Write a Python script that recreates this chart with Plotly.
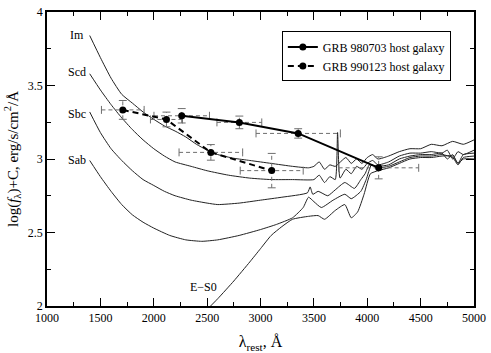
import plotly.graph_objects as go

# template galaxy spectra, log(f_lambda)+C vs rest wavelength
im_wave = [1400, 1500, 1600, 1700, 1800, 1900, 2000, 2100, 2200, 2300, 2400, 2500, 2600, 2750, 2900,
           3100, 3300, 3450, 3500, 3550, 3600, 3650, 3700, 3800, 3850, 3900, 3950, 4000, 4050, 4100,
           4200, 4300, 4400, 4500, 4600, 4700, 4800, 4900, 5000]
im_flux = [3.84, 3.69, 3.55, 3.44, 3.38, 3.32, 3.27, 3.225, 3.19, 3.15, 3.10, 3.06, 3.03, 3.005, 2.99,
           2.97, 2.95, 2.94, 2.95, 2.98, 2.93, 2.96, 2.95, 3.01, 2.97, 3.00, 2.97, 3.01, 3.03, 3.00,
           3.02, 3.05, 3.07, 3.07, 3.10, 3.09, 3.12, 3.10, 3.13]

scd_wave = [1400, 1500, 1600, 1700, 1800, 1900, 2000, 2100, 2200, 2350, 2500, 2700, 2900, 3100, 3300,
            3500, 3550, 3600, 3650, 3700, 3722, 3745, 3800, 3850, 3900, 3950, 4000, 4050, 4100, 4200,
            4300, 4400, 4500, 4600, 4700, 4750, 4800, 4850, 4900, 5000]
scd_flux = [3.58, 3.47, 3.37, 3.28, 3.20, 3.13, 3.07, 3.02, 2.98, 2.95, 2.92, 2.89, 2.87, 2.86, 2.86,
            2.86, 2.89, 2.84, 2.88, 2.86, 3.18, 2.87, 2.93, 2.90, 2.95, 2.93, 2.97, 2.99, 2.96, 2.98,
            3.02, 3.04, 3.04, 3.05, 3.04, 3.06, 3.00, 3.05, 3.03, 3.06]

sbc_wave = [1400, 1500, 1600, 1700, 1800, 1900, 2000, 2100, 2200, 2350, 2500, 2600, 2800, 3000, 3200,
            3440, 3465, 3490, 3540, 3630, 3700, 3790, 3880, 3940, 3980, 4020, 4100, 4200, 4300, 4400,
            4500, 4600, 4700, 4750, 4800, 4850, 4900, 5000]
sbc_flux = [3.32, 3.18, 3.07, 2.99, 2.92, 2.86, 2.82, 2.78, 2.75, 2.72, 2.70, 2.69, 2.70, 2.72, 2.74,
            2.77, 2.81, 2.76, 2.78, 2.75, 2.79, 2.84, 2.80, 2.86, 2.90, 2.96, 2.95, 2.96, 3.00, 3.02,
            3.03, 3.03, 3.04, 3.00, 3.03, 2.97, 3.03, 3.04]

sab_wave = [1400, 1500, 1600, 1700, 1800, 1900, 2000, 2150, 2300, 2450, 2600, 2800, 3000, 3150, 3300,
            3400, 3450, 3500, 3570, 3680, 3790, 3850, 3940, 3990, 4040, 4100, 4200, 4300, 4400, 4500,
            4600, 4700, 4800, 4850, 4900, 5000]
sab_flux = [2.99, 2.88, 2.78, 2.69, 2.62, 2.57, 2.53, 2.48, 2.45, 2.44, 2.45, 2.48, 2.52, 2.555, 2.60,
            2.67, 2.74, 2.71, 2.67, 2.72, 2.76, 2.73, 2.78, 2.86, 2.96, 2.94, 2.95, 2.98, 3.01, 3.02,
            3.02, 3.03, 3.01, 2.96, 3.01, 3.02]

es0_wave = [2450, 2600, 2750, 2900, 3000, 3100, 3200, 3300, 3450, 3540, 3600, 3700, 3790, 3850, 3910,
            3970, 4030, 4100, 4200, 4300, 4400, 4500, 4600, 4700, 4800, 4850, 4900, 5000]
es0_flux = [1.94, 2.05, 2.17, 2.30, 2.39, 2.48, 2.54, 2.59, 2.61, 2.615, 2.59, 2.65, 2.69, 2.60, 2.64,
            2.76, 2.90, 2.92, 2.94, 2.97, 3.00, 3.01, 3.01, 3.02, 3.02, 2.97, 3.00, 3.00]

templates = [
    ("Im", im_wave, im_flux),
    ("Scd", scd_wave, scd_flux),
    ("Sbc", sbc_wave, sbc_flux),
    ("Sab", sab_wave, sab_flux),
    ("E\u2212S0", es0_wave, es0_flux),
]

# label positions for the templates
label_names = ["Im", "Scd", "Sbc", "Sab", "E\u2212S0"]
label_x = [1280, 1280, 1280, 1280, 2470]
label_y = [3.845, 3.594, 3.307, 2.99, 2.128]

# host galaxy photometry
grb980703_wave = [2262, 2802, 3353, 4107]
grb980703_flux = [3.294, 3.249, 3.174, 2.94]
grb980703_xerr = [260, 210, 395, 375]
grb980703_yerr = [0.049, 0.043, 0.032, 0.075]

grb990123_wave = [1710, 2119, 2535, 3105]
grb990123_flux = [3.334, 3.269, 3.045, 2.921]
grb990123_xerr = [200, 150, 298, 295]
grb990123_yerr = [0.064, 0.05, 0.053, 0.117]

FONT = "Liberation Serif, Times New Roman, DejaVu Serif, serif"
ERR_COLOR = "#6e6e6e"


def err_bars(xs, ys, xe, ye):
    # dashed bars plus small solid caps, in data units
    capx, capy = 37, 0.027
    bx, by, cx, cy = [], [], [], []
    for x, y, dx, dy in zip(xs, ys, xe, ye):
        bx += [x - dx, x + dx, None, x, x, None]
        by += [y, y, None, y - dy, y + dy, None]
        cx += [x - dx, x - dx, None, x + dx, x + dx, None,
               x - capx, x + capx, None, x - capx, x + capx, None]
        cy += [y - capy, y + capy, None, y - capy, y + capy, None,
               y - dy, y - dy, None, y + dy, y + dy, None]
    return [
        go.Scatter(x=bx, y=by, mode="lines", showlegend=False, hoverinfo="skip",
                   line=dict(color=ERR_COLOR, width=1, dash="4px,3px")),
        go.Scatter(x=cx, y=cy, mode="lines", showlegend=False, hoverinfo="skip",
                   line=dict(color=ERR_COLOR, width=1)),
    ]


fig = go.Figure()

for name, wv, fl in templates:
    fig.add_trace(go.Scatter(x=wv, y=fl, mode="lines", name=name, showlegend=False,
                             line=dict(color="#222", width=1, shape="spline", smoothing=0.5)))

for t in err_bars(grb980703_wave, grb980703_flux, grb980703_xerr, grb980703_yerr):
    fig.add_trace(t)
for t in err_bars(grb990123_wave, grb990123_flux, grb990123_xerr, grb990123_yerr):
    fig.add_trace(t)

fig.add_trace(go.Scatter(x=grb980703_wave, y=grb980703_flux, mode="lines+markers",
                         name="GRB 980703 host galaxy",
                         line=dict(color="black", width=2),
                         marker=dict(color="black", size=7, symbol="circle")))
fig.add_trace(go.Scatter(x=grb990123_wave, y=grb990123_flux, mode="lines+markers",
                         name="GRB 990123 host galaxy",
                         line=dict(color="black", width=2, dash="6px,4px"),
                         marker=dict(color="black", size=7, symbol="circle")))

for nm, lx, ly in zip(label_names, label_x, label_y):
    fig.add_annotation(x=lx, y=ly, text=nm, showarrow=False,
                       font=dict(family=FONT, size=12, color="black"))

axis_common = dict(showline=True, linecolor="black", linewidth=1.5, mirror="ticks",
                   ticks="inside", ticklen=8, tickcolor="black", showgrid=False, zeroline=False,
                   tickfont=dict(family=FONT, size=12, color="black"))

fig.update_xaxes(range=[1000, 5000], dtick=500, tick0=1000,
                 minor=dict(dtick=250, ticks="inside", ticklen=4, tickcolor="black"),
                 title=dict(text="\u03bb<sub>rest</sub>, \u00c5", standoff=12,
                            font=dict(family=FONT, size=16, color="black")),
                 **axis_common)
fig.update_yaxes(range=[2, 4], dtick=0.5, tick0=2,
                 minor=dict(dtick=0.25, ticks="inside", ticklen=4, tickcolor="black"),
                 title=dict(text="log(<i>f</i><sub>\u03bb</sub>)+C, erg/s/cm<sup>2</sup>/\u00c5",
                            standoff=6, font=dict(family=FONT, size=15, color="black")),
                 **axis_common)

fig.update_layout(
    width=491, height=353,
    margin=dict(l=47, r=14, t=5, b=47),
    plot_bgcolor="white", paper_bgcolor="white",
    font=dict(family=FONT, color="black"),
    legend=dict(x=0.55, y=0.934, xanchor="left", yanchor="top",
                bgcolor="white", bordercolor="black", borderwidth=1,
                font=dict(family=FONT, size=12, color="black"),
                tracegroupgap=0, itemwidth=30),
)

fig.write_html("out.html", config={"displayModeBar": False},
               post_script="document.body.style.margin='0';")
